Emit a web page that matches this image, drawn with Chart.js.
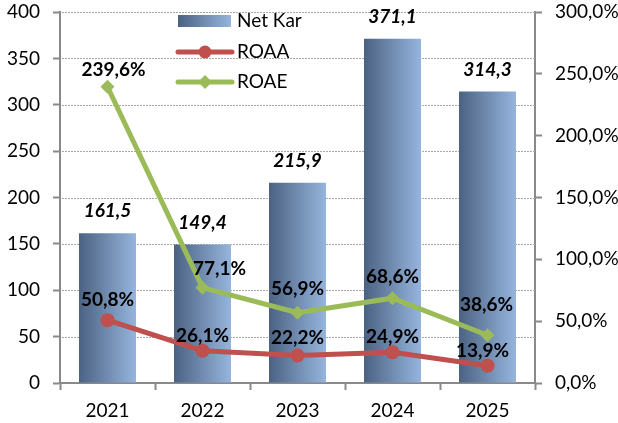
<!DOCTYPE html>
<html>
<head>
<meta charset="utf-8">
<script src="https://cdn.jsdelivr.net/npm/chart.js@4"></script>
<style>
  html, body { margin: 0; padding: 0; background: #fff; }
  #wrap { width: 618px; height: 423px; }
</style>
</head>
<body>
<div id="wrap"><canvas id="myChart" width="618" height="423"></canvas></div>
<script>
// chart values
const years = ['2021', '2022', '2023', '2024', '2025'];
const netKar = [161.5, 149.4, 215.9, 371.1, 314.3];
const roaa = [50.8, 26.1, 22.2, 24.9, 13.9];
const roae = [239.6, 77.1, 56.9, 68.6, 38.6];
const leftTicks = [0, 50, 100, 150, 200, 250, 300, 350, 400];
const rightTicks = [0, 50, 100, 150, 200, 250, 300];

// label nudges (px) from each point, like the manual placing in the original
const roaaOffsets = [[0, -20], [0, -15], [0, -18], [0, -15], [-5, -15]];
const roaeOffsets = [[6, -17], [17, -19], [0, -24], [0, -21], [-1, -30]];

const FONT = 'Lato';
const GRAY = '#898989';
const RED = '#c0504d';
const GREEN = '#9bbb59';

function fmt(v, digits) {
    return v.toFixed(digits).replace('.', ',');
}

function makeGradient(c, x0, x1) {
    const g = c.createLinearGradient(x0, 0, x1, 0);
    g.addColorStop(0, '#4b6282');
    g.addColorStop(1, '#96b5dd');
    return g;
}

function barGradient(context) {
    const chart = context.chart;
    const xs = chart.scales.x;
    if (!xs || !chart.chartArea || context.dataIndex === undefined) return '#7391b5';
    const cx = xs.getPixelForValue(context.dataIndex);
    const half = xs.width / years.length * 0.6 / 2;
    return makeGradient(chart.ctx, cx - half, cx + half);
}

// fixed axis sizes so the plot area sits where the original has it
function fixWidth(w) {
    return function(scale) {
        scale.width = w;
        scale.paddingTop = 0;
        scale.paddingBottom = 0;
    };
}

// dotted horizontal gridlines from the left axis ticks
const dottedGrid = {
    id: 'dottedGrid',
    beforeDatasetsDraw(chart) {
        const c = chart.ctx;
        const area = chart.chartArea;
        const ys = chart.scales.y;
        c.save();
        c.fillStyle = '#a8a8a8';
        ys.ticks.forEach(t => {
            if (t.value === 0) return;
            const y = Math.round(ys.getPixelForValue(t.value));
            for (let x = Math.ceil(area.left) + 2; x < area.right - 1; x += 3) {
                c.fillRect(x, y, 2, 1);
            }
        });
        c.restore();
    }
};

// draws the value labels on bars and lines
const valueLabels = {
    id: 'valueLabels',
    afterDatasetsDraw(chart) {
        const c = chart.ctx;
        c.save();
        c.fillStyle = '#000';
        c.textAlign = 'center';
        c.textBaseline = 'middle';

        c.font = 'italic bold 19px ' + FONT;
        chart.getDatasetMeta(0).data.forEach((bar, i) => {
            c.fillText(fmt(netKar[i], 1), bar.x, bar.y - 22);
        });

        c.font = 'bold 19px ' + FONT;
        chart.getDatasetMeta(1).data.forEach((pt, i) => {
            c.fillText(fmt(roaa[i], 1) + '%', pt.x + roaaOffsets[i][0], pt.y + roaaOffsets[i][1]);
        });
        chart.getDatasetMeta(2).data.forEach((pt, i) => {
            c.fillText(fmt(roae[i], 1) + '%', pt.x + roaeOffsets[i][0], pt.y + roaeOffsets[i][1]);
        });
        c.restore();
    }
};

// legend box sitting inside the plot
const innerLegend = {
    id: 'innerLegend',
    afterDraw(chart) {
        const c = chart.ctx;
        c.save();
        c.font = '19px ' + FONT;
        c.textBaseline = 'middle';
        c.textAlign = 'left';

        c.fillStyle = makeGradient(c, 178, 231);
        c.fillRect(178, 15, 53, 12);
        c.fillStyle = '#000';
        c.fillText(chart.data.datasets[0].label, 237, 21);

        c.lineWidth = 5;
        c.lineCap = 'round';
        c.strokeStyle = RED;
        c.beginPath(); c.moveTo(178, 52); c.lineTo(232, 52); c.stroke();
        c.fillStyle = RED;
        c.beginPath(); c.arc(205, 52, 6.5, 0, Math.PI * 2); c.fill();
        c.fillStyle = '#000';
        c.fillText(chart.data.datasets[1].label, 237, 52);

        c.strokeStyle = GREEN;
        c.beginPath(); c.moveTo(178, 82); c.lineTo(232, 82); c.stroke();
        c.fillStyle = GREEN;
        c.beginPath();
        c.moveTo(205, 75); c.lineTo(212, 82); c.lineTo(205, 89); c.lineTo(198, 82);
        c.closePath(); c.fill();
        c.fillStyle = '#000';
        c.fillText(chart.data.datasets[2].label, 237, 82);
        c.restore();
    }
};

Chart.defaults.font.family = FONT;
Chart.defaults.font.size = 19;
Chart.defaults.color = '#000';

const ctx = document.getElementById('myChart').getContext('2d');
new Chart(ctx, {
    type: 'bar',
    data: {
        labels: years,
        datasets: [
            {
                label: 'Net Kar',
                data: netKar,
                backgroundColor: barGradient,
                borderWidth: 0,
                barPercentage: 0.6,
                categoryPercentage: 1,
                yAxisID: 'y',
                order: 3
            },
            {
                type: 'line',
                label: 'ROAA',
                data: roaa,
                borderColor: RED,
                backgroundColor: RED,
                borderWidth: 5,
                pointRadius: 7,
                pointStyle: 'circle',
                pointBorderWidth: 0,
                pointBackgroundColor: RED,
                tension: 0,
                yAxisID: 'y1',
                order: 2
            },
            {
                type: 'line',
                label: 'ROAE',
                data: roae,
                borderColor: GREEN,
                backgroundColor: GREEN,
                borderWidth: 5,
                pointRadius: 7,
                pointStyle: 'rectRot',
                pointBorderWidth: 0,
                pointBackgroundColor: GREEN,
                tension: 0,
                yAxisID: 'y1',
                order: 1
            }
        ]
    },
    options: {
        responsive: false,
        animation: false,
        layout: {
            padding: { left: 0, right: 0, top: 12, bottom: 0 }
        },
        plugins: {
            legend: { display: false },
            tooltip: { enabled: false }
        },
        scales: {
            x: {
                offset: true,
                grid: {
                    offset: true,
                    drawOnChartArea: false,
                    tickLength: 7,
                    tickColor: GRAY,
                    tickWidth: 2
                },
                border: { color: GRAY, width: 2 },
                ticks: { padding: 9 },
                afterFit(scale) { scale.height = 40; }
            },
            y: {
                position: 'left',
                min: 0,
                max: 400,
                afterBuildTicks(scale) {
                    scale.ticks = leftTicks.map(v => ({ value: v }));
                },
                grid: {
                    drawOnChartArea: false,
                    tickLength: 7,
                    tickColor: GRAY,
                    tickWidth: 2
                },
                border: { color: GRAY, width: 2 },
                ticks: { padding: 13 },
                afterFit: fixWidth(60)
            },
            y1: {
                position: 'right',
                min: 0,
                max: 300,
                afterBuildTicks(scale) {
                    scale.ticks = rightTicks.map(v => ({ value: v }));
                },
                grid: {
                    drawOnChartArea: false,
                    tickLength: 7,
                    tickColor: GRAY,
                    tickWidth: 2
                },
                border: { color: GRAY, width: 2 },
                ticks: {
                    padding: 13,
                    callback: v => fmt(v, 1) + '%'
                },
                afterFit: fixWidth(83)
            }
        }
    },
    plugins: [dottedGrid, valueLabels, innerLegend]
});
</script>
</body>
</html>
